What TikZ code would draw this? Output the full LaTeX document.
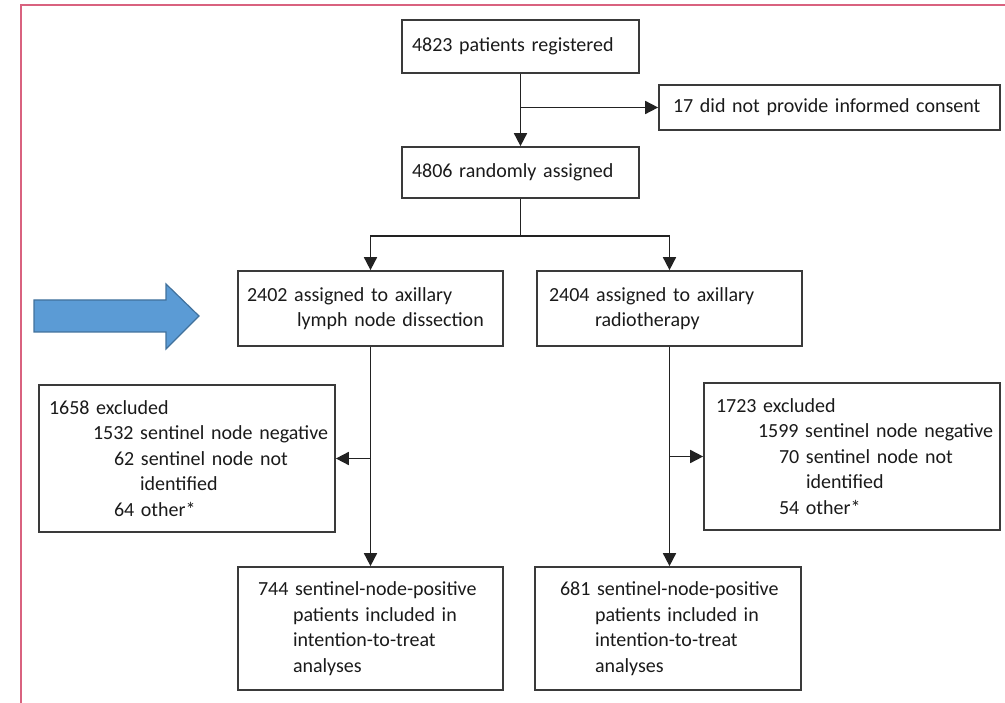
\documentclass[tikz,border=0pt]{standalone}
\usepackage{fontspec}
\setmainfont{Carlito}
\usetikzlibrary{arrows.meta}
\definecolor{framepink}{HTML}{D9627F}
\definecolor{boxgray}{HTML}{3A3A3A}
\definecolor{linegray}{HTML}{222222}
\definecolor{txt}{HTML}{1A1A1A}
\definecolor{arrowblue}{HTML}{5B9BD5}
\definecolor{arrowedge}{HTML}{41719C}
\begin{document}
\begin{tikzpicture}[x=1pt,y=-1pt,
  font=\fontsize{20}{25.5}\selectfont,
  box/.style={draw=boxgray, line width=1.7pt, rectangle, align=left, inner ysep=0pt, text=txt},
  conn/.style={draw=linegray, line width=1.7pt},
  arr/.style={conn, -{Triangle[length=13pt,width=13pt]}}]
\useasboundingbox (0,0) rectangle (1005,703);
% frame
\draw[framepink, line width=1.8pt] (21,703) -- (21,5) -- (1005,5);
% blue arrow
\filldraw[fill=arrowblue, draw=arrowedge, line width=1.2pt, line join=miter]
  (34,300) -- (166,300) -- (166,284) -- (199,316) -- (166,349) -- (166,332) -- (34,332) -- cycle;
% boxes
\node[box, minimum width=237pt, minimum height=53pt, inner xsep=10pt, text width=217pt] (A) at (520.5,46.5)
  {\mbox{4823 patients registered}};
\node[box, minimum width=341pt, minimum height=45pt, inner xsep=14pt, text width=313pt] (B) at (829.5,107.5)
  {\mbox{17 did not provide informed consent}};
\node[box, minimum width=237pt, minimum height=51pt, inner xsep=10pt, text width=217pt] (C) at (520.5,172.5)
  {\mbox{4806 randomly assigned}};
\node[box, minimum width=265pt, minimum height=75pt, inner xsep=9pt, text width=247pt] (D) at (370.5,308.5)
  {\mbox{2402 assigned to axillary}\\\hspace*{50pt}\mbox{lymph node dissection}};
\node[box, minimum width=265pt, minimum height=75pt, inner xsep=12pt, text width=241pt] (E) at (669.5,308.5)
  {\mbox{2404 assigned to axillary}\\\hspace*{46pt}\mbox{radiotherapy}};
\node[box, minimum width=296pt, minimum height=147pt, inner xsep=10pt, text width=276pt] (F) at (187,458.5)
  {\mbox{1658 excluded}\\
   \hspace*{44pt}\mbox{1532 sentinel node negative}\\
   \hspace*{65pt}\mbox{62 sentinel node not}\\
   \hspace*{91pt}\mbox{identified}\\
   \hspace*{65pt}\mbox{64 other*}};
\node[box, minimum width=296pt, minimum height=147pt, inner xsep=12pt, text width=272pt] (G) at (852,456.5)
  {\mbox{1723 excluded}\\
   \hspace*{42pt}\mbox{1599 sentinel node negative}\\
   \hspace*{63pt}\mbox{70 sentinel node not}\\
   \hspace*{90pt}\mbox{identified}\\
   \hspace*{63pt}\mbox{54 other*}};
\node[box, minimum width=265pt, minimum height=123pt, inner xsep=20pt, text width=225pt] (H) at (370.5,628.5)
  {\mbox{744 sentinel-node-positive}\\
   \hspace*{35pt}\mbox{patients included in}\\
   \hspace*{35pt}\mbox{intention-to-treat}\\
   \hspace*{35pt}\mbox{analyses}};
\node[box, minimum width=266pt, minimum height=123pt, inner xsep=25pt, text width=216pt] (I) at (668,628.5)
  {\mbox{681 sentinel-node-positive}\\
   \hspace*{35pt}\mbox{patients included in}\\
   \hspace*{35pt}\mbox{intention-to-treat}\\
   \hspace*{35pt}\mbox{analyses}};
% connectors
\coordinate (ab) at (A.south |- B.west);
\draw[arr] (A.south) -- (C.north);
\draw[arr] (ab) -- (B.west);
\coordinate (split) at (520.5,236);
\draw[conn] (C.south) -- (split);
\draw[arr] (split) -| (D.north);
\draw[arr] (split) -| (E.north);
\draw[arr] (D.south) -- (H.north);
\coordinate (df) at (D.south |- F.east);
\draw[arr] (df) -- (F.east);
\draw[arr] (E.south) -- (E.south |- I.north);
\coordinate (eg) at (E.south |- G.west);
\draw[arr] (eg) -- (G.west);
\end{tikzpicture}
\end{document}
